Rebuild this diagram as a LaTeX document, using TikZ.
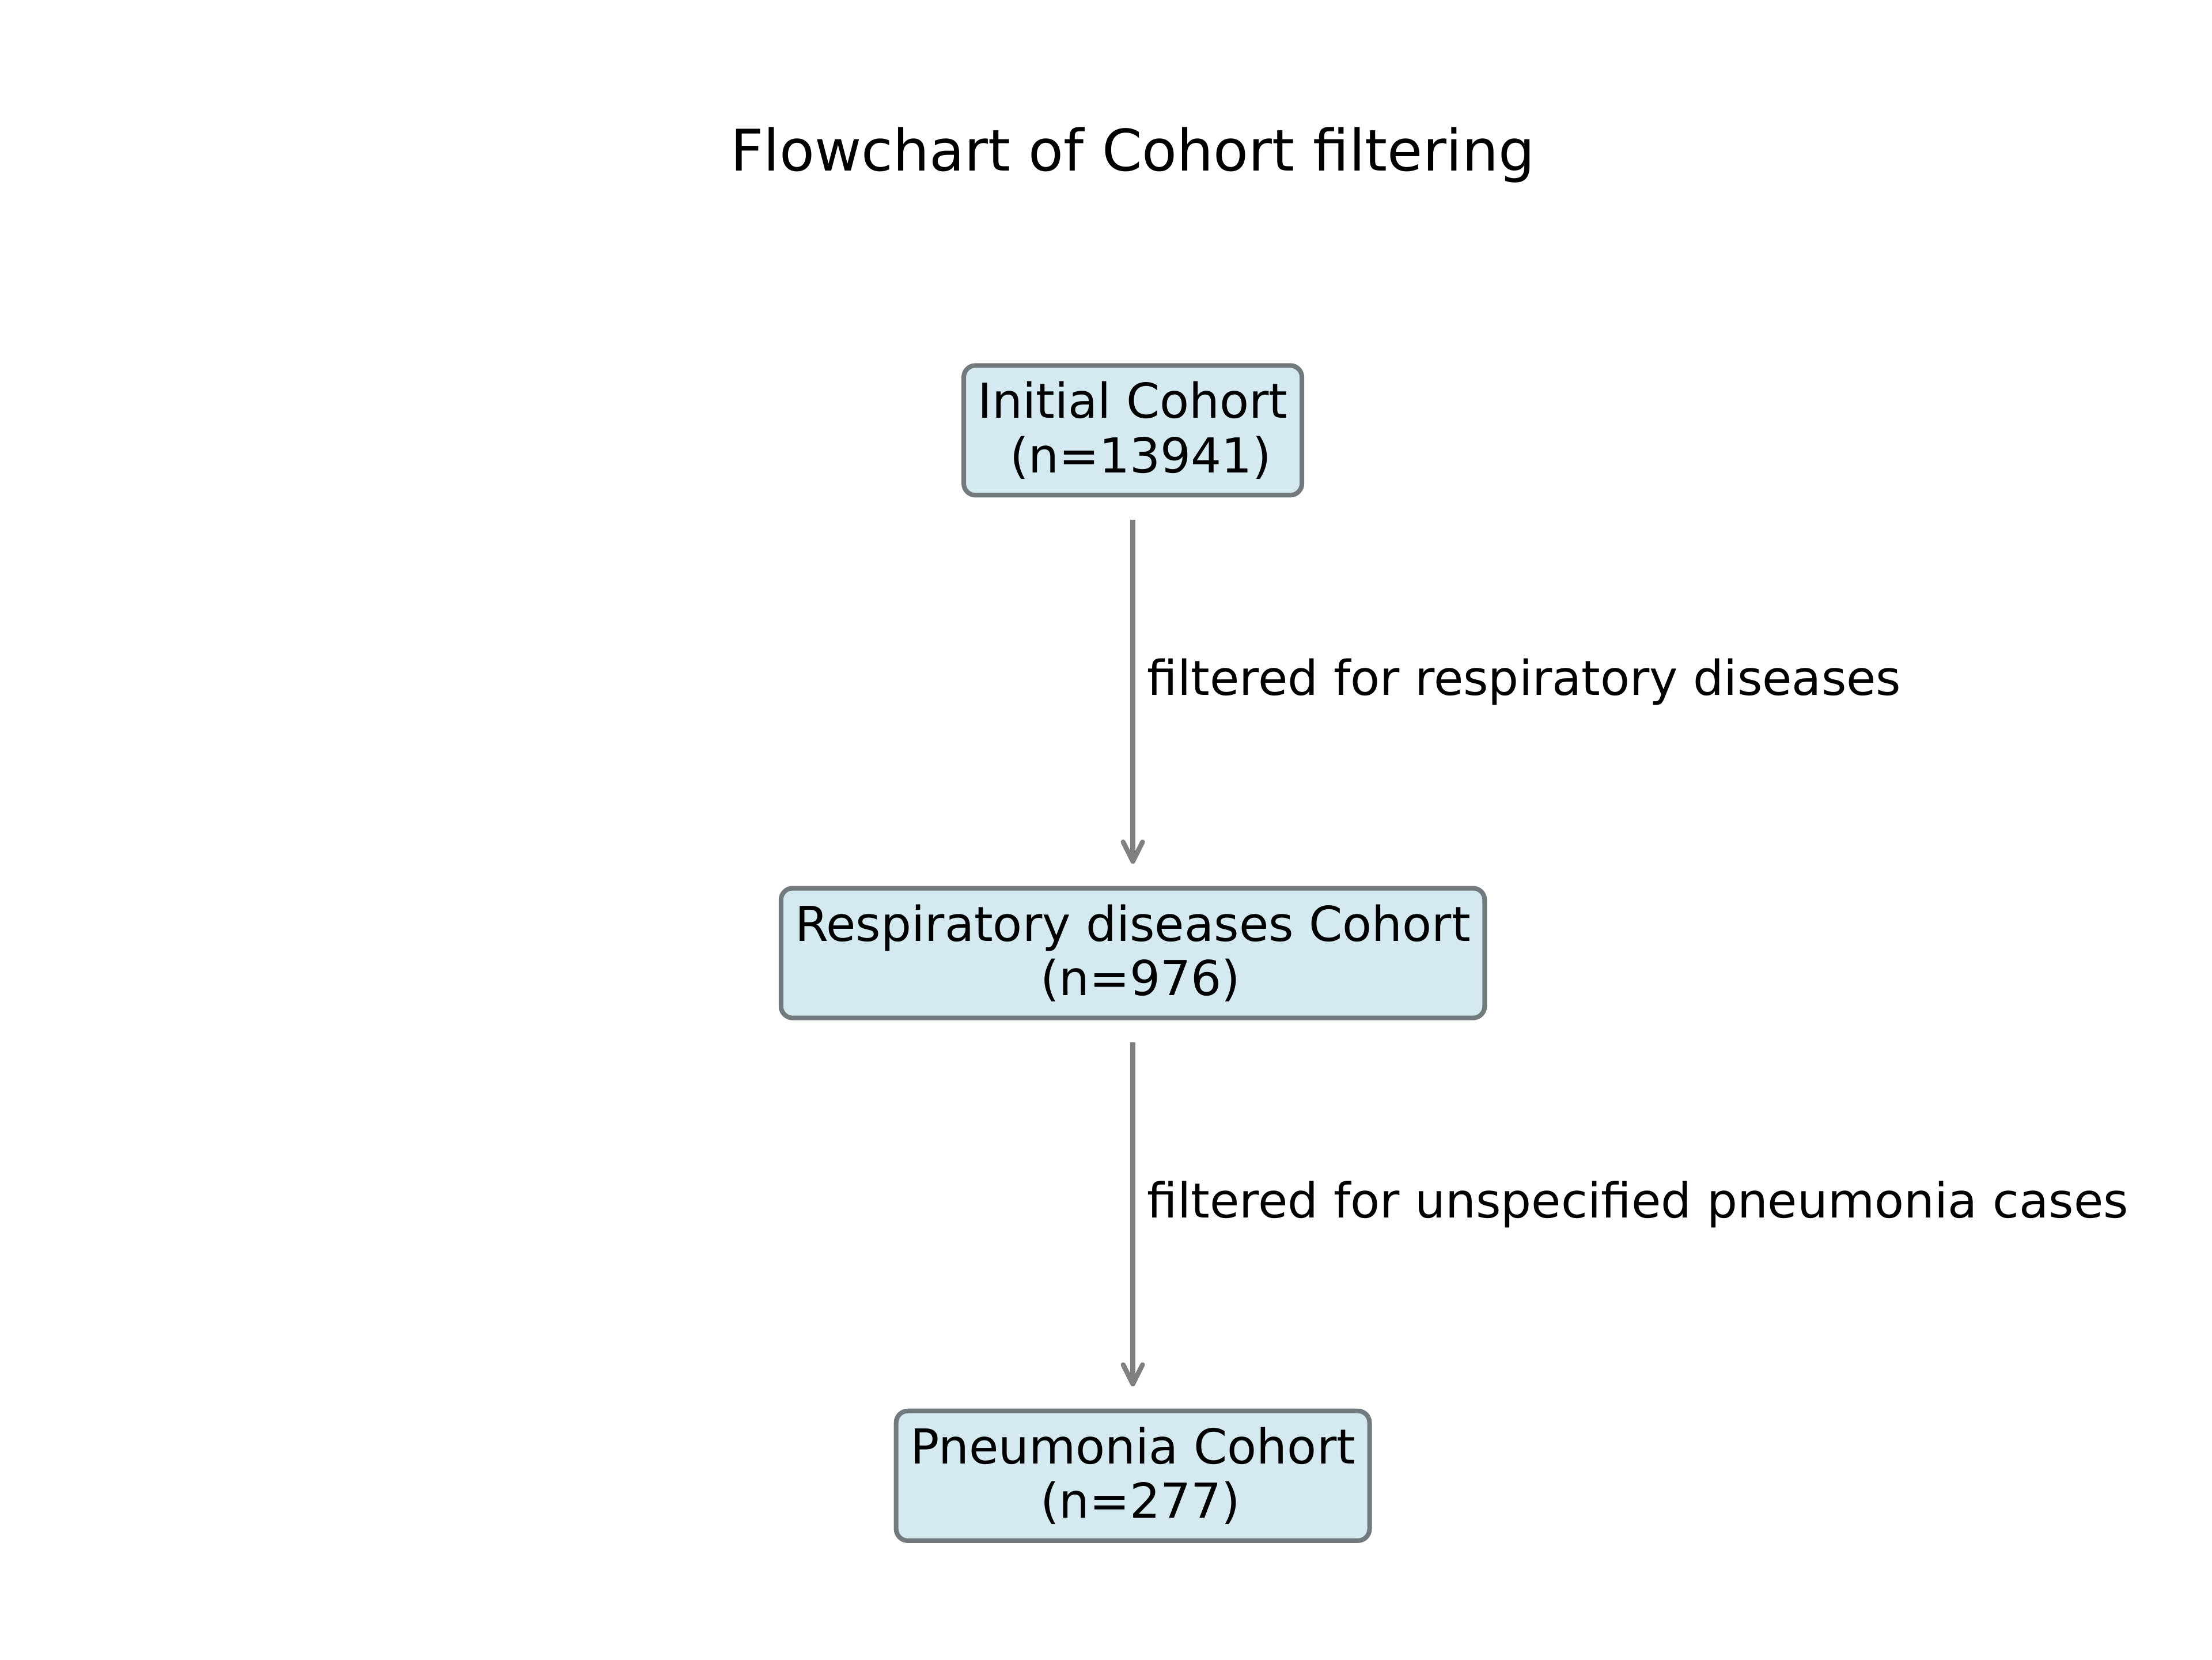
\documentclass[tikz,border=0pt]{standalone}
\usepackage{fontspec}
\setmainfont{DejaVu Sans}
\usepackage{tikz}
\usetikzlibrary{arrows.meta,positioning}
\definecolor{boxfill}{RGB}{212,234,240}
\definecolor{boxline}{RGB}{115,122,125}
\definecolor{arrowgray}{RGB}{128,128,128}
\tikzset{%
	cohort/.style   = {draw=boxline, fill=boxfill, line width=0.95pt, rectangle, rounded corners=2.4pt, align=center, inner xsep=2.9pt, minimum height=0.91cm, font=\fontsize{9.9}{11.2}\selectfont}, % Cohort box
	title/.style    = {font=\fontsize{11.8}{14}\selectfont}, % Title
	filterlbl/.style = {anchor=west, inner sep=0pt, xshift=2.5pt, font=\fontsize{9.9}{12}\selectfont}, % Label
	arrow/.style    = {draw=arrowgray, line width=1pt, -{Straight Barb[length=1.4mm,width=1.4mm,line cap=round,line join=round]}, shorten <=0.16cm, shorten >=0.16cm},
}
\begin{document}
\begin{tikzpicture}[node distance=3.78cm]
	\useasboundingbox (0,0) rectangle (16,12);
	\node [title] (ttl) at (8.194,10.88) {Flowchart of Cohort filtering};
	\node [cohort] (init) at (8.194,8.888) {Initial Cohort\\ \ (n=13941)};
	\node [cohort] (resp) [below of=init] {Respiratory diseases Cohort\\ \ (n=976)};
	\node [cohort] (pneu) [below of=resp] {Pneumonia Cohort\\ \ (n=277)};
	
	\draw[arrow] (init) -- node[filterlbl,pos=0.475] {filtered for respiratory diseases} (resp);
	\draw[arrow] (resp) -- node[filterlbl,pos=0.475] {filtered for unspecified pneumonia cases} (pneu);
	
\end{tikzpicture}
\end{document}
